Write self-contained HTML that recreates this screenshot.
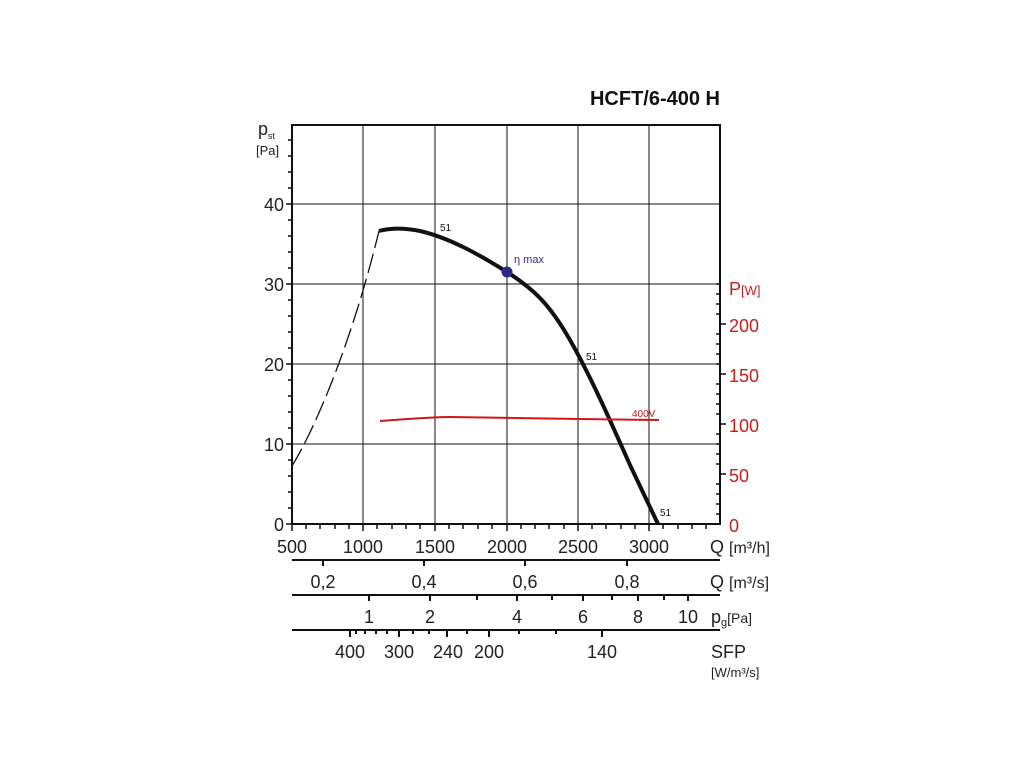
<!DOCTYPE html>
<html><head><meta charset="utf-8"><style>
html,body{margin:0;padding:0;background:#fff}
svg{display:block}
text{font-family:"Liberation Sans",Arial,sans-serif}
</style></head><body>
<svg width="1024" height="768" viewBox="0 0 1024 768" xmlns="http://www.w3.org/2000/svg">
<text x="720" y="105" font-size="20" font-weight="bold" text-anchor="end" fill="#111">HCFT/6-400 H</text>
<g stroke="#111" stroke-width="1">
<line x1="363" y1="125" x2="363" y2="524"/>
<line x1="435" y1="125" x2="435" y2="524"/>
<line x1="507" y1="125" x2="507" y2="524"/>
<line x1="578" y1="125" x2="578" y2="524"/>
<line x1="649" y1="125" x2="649" y2="524"/>
<line x1="292" y1="204" x2="720" y2="204"/>
<line x1="292" y1="284" x2="720" y2="284"/>
<line x1="292" y1="364" x2="720" y2="364"/>
<line x1="292" y1="444" x2="720" y2="444"/>
</g>
<rect x="292" y="125" width="428" height="399" fill="none" stroke="#111" stroke-width="2"/>
<g stroke="#111" stroke-width="1.5">
<path d="M292 508h-4M292 492h-4M292 476h-4M292 460h-4M292 428h-4M292 412h-4M292 396h-4M292 380h-4M292 348h-4M292 332h-4M292 316h-4M292 300h-4M292 268h-4M292 252h-4M292 236h-4M292 220h-4M292 188h-4M292 172h-4M292 156h-4M292 140h-4"/>
<path d="M292 524h-6M292 444h-6M292 364h-6M292 284h-6M292 204h-6"/>
<path d="M720 514h-4M720 504h-4M720 494h-4M720 484h-4M720 464h-4M720 454h-4M720 444h-4M720 434h-4M720 414h-4M720 404h-4M720 394h-4M720 384h-4M720 364h-4M720 354h-4M720 344h-4M720 334h-4M720 314h-4M720 304h-4M720 294h-4M720 284h-4"/>
<path d="M720 474h6M720 424h6M720 374h6M720 324h6"/>
<path d="M306 524v5M320 524v5M335 524v5M349 524v5M377 524v5M392 524v5M406 524v5M420 524v5M449 524v5M463 524v5M478 524v5M492 524v5M521 524v5M535 524v5M549 524v5M564 524v5M592 524v5M606 524v5M621 524v5M635 524v5M663 524v5M678 524v5M692 524v5M706 524v5"/>
<path d="M292 524v7M363 524v7M435 524v7M507 524v7M578 524v7M649 524v7"/>
</g>
<g font-size="18" fill="#222">
<text x="284" y="531" text-anchor="end">0</text>
<text x="284" y="451" text-anchor="end">10</text>
<text x="284" y="371" text-anchor="end">20</text>
<text x="284" y="291" text-anchor="end">30</text>
<text x="284" y="211" text-anchor="end">40</text>
</g>
<text x="258" y="135" font-size="18" fill="#222">p<tspan font-size="9" dy="4">st</tspan></text>
<text x="256" y="155" font-size="13" fill="#222">[Pa]</text>
<g font-size="18" fill="#c81e1e">
<text x="729" y="295">P<tspan font-size="13">[W]</tspan></text>
<text x="729" y="332">200</text>
<text x="729" y="382">150</text>
<text x="729" y="432">100</text>
<text x="729" y="482">50</text>
<text x="729" y="532">0</text>
</g>
<path d="M292 466 C320 420 355 330 379 231" fill="none" stroke="#111" stroke-width="1.3" stroke-dasharray="20,6"/>
<path d="M379 231 C390 228 405 228 420 231 C450 238 480 255 507 272 C535 290 550 305 570 340 C590 375 610 420 630 465 L658 524" fill="none" stroke="#111" stroke-width="4"/>
<path d="M380 421 C410 419 430 417 450 417 C490 418 540 418 580 419 L659 420" fill="none" stroke="#d01818" stroke-width="2"/>
<circle cx="507" cy="272" r="5.5" fill="#2a2a8a"/>
<text x="514" y="263" font-size="11" fill="#2a2a8a">η max</text>
<g font-size="10" fill="#111">
<text x="440" y="231">51</text>
<text x="586" y="360">51</text>
<text x="660" y="516">51</text>
</g>
<text x="632" y="417" font-size="10" fill="#d01818">400V</text>
<g font-size="18" fill="#222" text-anchor="middle">
<text x="292" y="553">500</text><text x="363" y="553">1000</text><text x="435" y="553">1500</text>
<text x="507" y="553">2000</text><text x="578" y="553">2500</text><text x="649" y="553">3000</text>
<text x="323" y="588">0,2</text><text x="424" y="588">0,4</text><text x="525" y="588">0,6</text><text x="627" y="588">0,8</text>
<text x="369" y="623">1</text><text x="430" y="623">2</text><text x="517" y="623">4</text><text x="583" y="623">6</text><text x="638" y="623">8</text><text x="688" y="623">10</text>
<text x="350" y="658">400</text><text x="399" y="658">300</text><text x="448" y="658">240</text><text x="489" y="658">200</text><text x="602" y="658">140</text>
</g>
<g font-size="18" fill="#222">
<text x="710" y="553">Q <tspan font-size="16">[m³/h]</tspan></text>
<text x="710" y="588">Q <tspan font-size="16">[m³/s]</tspan></text>
<text x="711" y="623">p<tspan font-size="11" dy="3">g</tspan><tspan font-size="14" dy="-3">[Pa]</tspan></text>
<text x="711" y="658">SFP</text>
<text x="711" y="677" font-size="13">[W/m³/s]</text>
</g>
<g stroke="#111" stroke-width="2">
<line x1="292" y1="560" x2="720" y2="560"/>
<line x1="292" y1="595" x2="720" y2="595"/>
<line x1="292" y1="630" x2="720" y2="630"/>
</g>
<g stroke="#111" stroke-width="2">
<path d="M323 560v6M424 560v6M525 560v6M627 560v6"/>
<path d="M369 595v6M430 595v6M477 595v5M517 595v6M552 595v5M583 595v6M612 595v5M638 595v6M664 595v5M688 595v6"/>
<path d="M350 630v7M356 630v4M365 630v4M376 630v4M387 630v4M399 630v7M413 630v4M429 630v4M447 630v7M467 630v4M489 630v7M519 630v4M556 630v4M602 630v7"/>
</g>
</svg>
</body></html>
